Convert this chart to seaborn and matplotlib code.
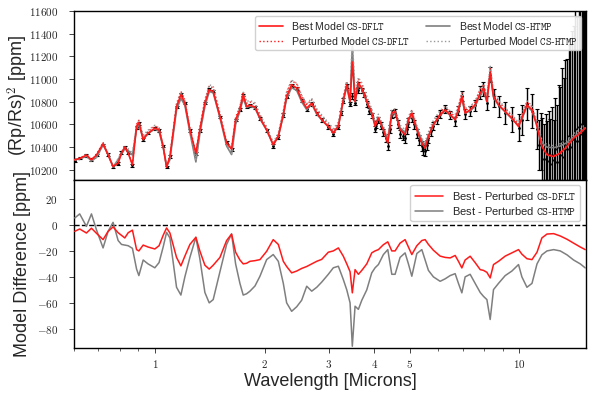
import numpy as np
import pandas as pd
import matplotlib
matplotlib.use("Agg")
import matplotlib.pyplot as plt
import seaborn as sns
from matplotlib.ticker import FuncFormatter, NullFormatter, FixedLocator

# ---------------- data ----------------
wavelength = [0.603, 0.622, 0.649, 0.670, 0.692, 0.721, 0.744, 0.768, 0.793, 0.810,
              0.827, 0.845, 0.868, 0.891, 0.904, 0.929, 0.958, 1.000, 1.027, 1.054,
              1.077, 1.100, 1.147, 1.179, 1.209, 1.248, 1.296, 1.329, 1.372, 1.410,
              1.446, 1.509, 1.574, 1.624, 1.666, 1.712, 1.748, 1.786, 1.824, 1.883,
              1.943, 2.027, 2.113, 2.182, 2.252, 2.300, 2.374, 2.451, 2.529, 2.611,
              2.695, 2.782, 2.871, 2.993, 3.089, 3.189, 3.291, 3.363, 3.434, 3.483,
              3.544, 3.619, 3.698, 3.816, 3.938, 4.022, 4.107, 4.239, 4.358, 4.470,
              4.564, 4.710, 4.862, 4.965, 5.073, 5.236, 5.404, 5.518, 5.634, 5.815,
              6.067, 6.262, 6.463, 6.671, 6.811, 6.959, 7.105, 7.334, 7.569, 7.815,
              7.979, 8.153, 8.324, 8.500, 8.773, 9.153, 9.548, 9.956, 10.17, 10.50,
              10.84, 11.19, 11.54, 11.92, 12.43, 12.96, 13.52, 14.10, 14.71, 15.18]

best_dflt = [10288, 10300, 10330, 10288, 10332, 10429, 10332, 10229, 10259, 10347,
             10400, 10347, 10244, 10582, 10617, 10465, 10523, 10568, 10553, 10406,
             10223, 10317, 10758, 10861, 10788, 10553, 10347, 10553, 10788, 10906,
             10891, 10670, 10435, 10382, 10641, 10729, 10861, 10758, 10770, 10753,
             10656, 10553, 10420, 10494, 10685, 10847, 10950, 10921, 10817, 10744,
             10788, 10700, 10641, 10582, 10523, 10582, 10817, 10950, 10802, 11150,
             10802, 10965, 10921, 10802, 10700, 10582, 10656, 10553, 10435, 10700,
             10714, 10553, 10509, 10641, 10700, 10553, 10435, 10391, 10494, 10597,
             10685, 10729, 10685, 10641, 10729, 10847, 10700, 10729, 10773, 10876,
             10921, 10802, 11053, 10847, 10773, 10714, 10656, 10582, 10656, 10773,
             10729, 10582, 10406, 10332, 10317, 10347, 10406, 10479, 10523, 10568]

best_htmp = [10290, 10298, 10320, 10280, 10310, 10420, 10340, 10225, 10290, 10340,
             10385, 10370, 10330, 10560, 10600, 10480, 10520, 10560, 10540, 10400,
             10230, 10290, 10730, 10830, 10770, 10530, 10270, 10520, 10760, 10890,
             10880, 10660, 10410, 10335, 10600, 10720, 10830, 10750, 10760, 10745,
             10650, 10550, 10420, 10494, 10680, 10830, 10925, 10900, 10800, 10730,
             10780, 10690, 10640, 10580, 10530, 10590, 10810, 10930, 10800, 11290,
             10800, 10950, 10910, 10800, 10700, 10600, 10660, 10560, 10470, 10690,
             10700, 10570, 10530, 10640, 10690, 10570, 10460, 10420, 10500, 10600,
             10680, 10720, 10680, 10650, 10720, 10830, 10700, 10720, 10760, 10860,
             10900, 10800, 11050, 10840, 10770, 10710, 10650, 10590, 10650, 10760,
             10720, 10600, 10440, 10400, 10395, 10410, 10440, 10490, 10530, 10570]

diff_dflt = [-4.9, -3.1, -6.2, -2.5, -6.5, -11.3, -5.0, -1.5, -6.0, -8.0,
             -10.0, -6.0, -4.0, -19.0, -20.0, -15.5, -17.0, -18.5, -16.0, -8.0,
             -2.3, -6.2, -25.0, -31.5, -24.0, -15.0, -9.5, -20.0, -31.0, -34.0,
             -31.0, -25.0, -12.0, -7.0, -21.0, -27.0, -30.0, -29.5, -28.0, -27.5,
             -26.7, -20.3, -11.3, -15.0, -28.0, -32.0, -36.9, -35.5, -33.5, -32.0,
             -30.0, -28.0, -26.5, -21.0, -20.0, -17.7, -24.1, -30.0, -36.0, -52.3,
             -34.4, -38.0, -35.0, -30.0, -21.5, -20.0, -19.0, -15.2, -13.0, -20.0,
             -20.0, -14.0, -11.3, -17.0, -22.8, -16.0, -12.0, -11.3, -15.0, -19.5,
             -24.0, -25.0, -25.4, -23.5, -28.0, -33.1, -27.0, -24.1, -29.0, -34.4,
             -35.0, -36.5, -40.8, -30.5, -28.0, -24.0, -21.5, -19.0, -22.5, -26.0,
             -26.7, -21.0, -10.0, -7.0, -6.7, -8.5, -11.0, -14.0, -17.0, -19.0]

diff_htmp = [5.4, 8.5, -1.1, 8.5, -4.0, -17.7, -5.0, 2.0, -12.0, -15.0,
             -15.5, -16.0, -18.0, -34.0, -39.0, -27.0, -30.0, -33.0, -29.0, -17.0,
             -5.7, -10.0, -48.0, -54.0, -40.0, -25.0, -9.5, -26.0, -52.0, -60.0,
             -57.5, -36.0, -15.0, -7.0, -30.0, -45.0, -54.0, -53.0, -51.0, -47.0,
             -39.5, -26.7, -22.8, -28.0, -45.0, -60.0, -66.5, -63.0, -58.0, -47.2,
             -51.0, -48.0, -44.0, -38.0, -33.0, -31.8, -42.1, -50.0, -60.0, -93.4,
             -62.6, -65.0, -58.0, -50.0, -36.9, -33.0, -30.5, -22.8, -19.0, -38.0,
             -38.0, -25.0, -21.5, -30.0, -39.5, -22.0, -19.0, -27.0, -35.0, -40.0,
             -43.4, -41.5, -39.0, -37.5, -45.0, -52.3, -40.0, -38.0, -45.0, -52.0,
             -55.0, -57.5, -72.8, -49.8, -45.0, -39.0, -35.5, -30.5, -40.0, -48.0,
             -45.0, -30.0, -23.0, -20.0, -19.0, -20.0, -23.0, -27.0, -30.0, -33.1]

obs_wavelength = [0.603, 0.622, 0.649, 0.670, 0.692, 0.721, 0.744, 0.768, 0.793, 0.810,
                  0.827, 0.845, 0.868, 0.891, 0.904, 0.929, 0.958, 1.000, 1.027, 1.054,
                  1.077, 1.100, 1.147, 1.179, 1.209, 1.248, 1.296, 1.329, 1.372, 1.410,
                  1.446, 1.509, 1.574, 1.624, 1.666, 1.712, 1.748, 1.786, 1.824, 1.883,
                  1.943, 2.027, 2.113, 2.182, 2.252, 2.300, 2.374, 2.451, 2.529, 2.611,
                  2.695, 2.782, 2.871, 2.993, 3.089, 3.189, 3.250, 3.291, 3.363, 3.434,
                  3.483, 3.544, 3.600, 3.619, 3.698, 3.750, 3.816, 3.880, 3.938, 4.022,
                  4.050, 4.107, 4.180, 4.239, 4.300, 4.358, 4.410, 4.470, 4.564, 4.640,
                  4.710, 4.790, 4.862, 4.910, 4.965, 5.073, 5.150, 5.236, 5.320, 5.404,
                  5.460, 5.518, 5.580, 5.634, 5.720, 5.815, 5.940, 6.067, 6.262, 6.463,
                  6.671, 6.811, 6.959, 7.105, 7.334, 7.569, 7.815, 7.979, 8.153, 8.324,
                  8.500, 8.773, 9.153, 9.548, 9.956, 10.17, 10.50, 10.84, 11.19, 11.35,
                  11.45, 11.54, 11.73, 11.83, 11.92, 12.05, 12.17, 12.30, 12.43, 12.56,
                  12.70, 12.83, 12.96, 13.10, 13.24, 13.38, 13.52, 13.66, 13.80, 13.95,
                  14.10, 14.25, 14.40, 14.55, 14.71, 14.83, 14.95, 15.07, 15.18]

obs_value = [10280, 10305, 10325, 10290, 10330, 10420, 10335, 10230, 10255, 10350,
             10395, 10350, 10240, 10575, 10610, 10470, 10525, 10565, 10550, 10410,
             10225, 10320, 10755, 10865, 10790, 10550, 10345, 10550, 10790, 10910,
             10895, 10665, 10440, 10380, 10640, 10730, 10860, 10755, 10765, 10750,
             10650, 10550, 10410, 10490, 10685, 10845, 10945, 10915, 10810, 10735,
             10780, 10695, 10640, 10575, 10515, 10575, 10700, 10810, 10940, 10780,
             10850, 10790, 10900, 10955, 10900, 10860, 10780, 10720, 10680, 10560,
             10600, 10640, 10590, 10530, 10480, 10410, 10560, 10690, 10700, 10600,
             10520, 10500, 10480, 10560, 10620, 10660, 10600, 10520, 10460, 10410,
             10380, 10370, 10420, 10480, 10540, 10590, 10640, 10690, 10735, 10680,
             10630, 10720, 10850, 10690, 10720, 10770, 10880, 10910, 10790, 11040,
             10830, 10760, 10700, 10640, 10570, 10640, 10780, 10720, 10560, 10420,
             10450, 10380, 10300, 10360, 10280, 10340, 10250, 10330, 10290, 10380,
             10270, 10400, 10330, 10450, 10310, 10420, 10380, 10500, 10400, 10470,
             10470, 10560, 10450, 10580, 10520, 10600, 10500, 10620, 10560]

obs_error = [12, 12, 12, 12, 12, 12, 12, 12, 12, 12,
             12, 12, 12, 12, 12, 12, 12, 12, 12, 12,
             12, 12, 12, 12, 12, 12, 12, 12, 12, 12,
             12, 12, 12, 12, 12, 12, 12, 12, 12, 12,
             12, 12, 15, 15, 15, 15, 15, 15, 15, 15,
             15, 15, 15, 18, 18, 18, 20, 20, 20, 20,
             25, 22, 22, 22, 22, 22, 25, 25, 25, 30,
             30, 30, 30, 30, 35, 35, 35, 35, 35, 35,
             35, 40, 40, 40, 40, 40, 40, 40, 45, 45,
             45, 45, 45, 40, 40, 35, 35, 35, 35, 35,
             40, 40, 45, 45, 45, 50, 55, 60, 60, 70,
             80, 90, 100, 110, 120, 130, 140, 150, 180, 220,
             250, 280, 300, 330, 350, 380, 400, 420, 350, 450,
             500, 550, 600, 650, 700, 750, 800, 850, 900, 950,
             1000, 1050, 1100, 1150, 1200, 1250, 1300, 1350, 1400]

top_yticks = [10200, 10400, 10600, 10800, 11000, 11200, 11400, 11600]
bottom_yticks = [-80, -60, -40, -20, 0, 20]
xticks = [1, 2, 3, 4, 5, 10]

# ---------------- derived tables ----------------
df = pd.DataFrame({
    "wl": wavelength,
    "best_dflt": best_dflt,
    "best_htmp": best_htmp,
    "diff_dflt": diff_dflt,
    "diff_htmp": diff_htmp,
})
df["pert_dflt"] = df["best_dflt"] - df["diff_dflt"]
df["pert_htmp"] = df["best_htmp"] - df["diff_htmp"]

# ---------------- style ----------------
sns.set_style("ticks")
plt.rcParams["font.family"] = ["Liberation Sans", "DejaVu Sans"]
plt.rcParams["mathtext.fontset"] = "cm"
plt.rcParams["xtick.direction"] = "out"
plt.rcParams["ytick.direction"] = "out"

fig = plt.figure(figsize=(5.97, 3.98), dpi=100)
L, R = 74 / 597, 586 / 597
ax1 = fig.add_axes([L, 1 - 179.5 / 398, R - L, (179.5 - 11) / 398])
ax2 = fig.add_axes([L, 1 - 348.3 / 398, R - L, (348.3 - 179.5) / 398], sharex=ax1)

# observations
ax1.errorbar(obs_wavelength, obs_value, yerr=obs_error, fmt=".", color="black",
             ms=2, elinewidth=1.0, capsize=1.5, capthick=0.8, zorder=2)

red = "#ff1a1a"
gray = "#7f7f7f"
sns.lineplot(data=df, x="wl", y="best_dflt", ax=ax1, color=red, lw=1.2,
             label="Best Model $\\mathtt{CS}$-$\\mathtt{DFLT}$", zorder=4, estimator=None)
sns.lineplot(data=df, x="wl", y="pert_dflt", ax=ax1, color=red, lw=1.0, ls=":",
             label="Perturbed Model $\\mathtt{CS}$-$\\mathtt{DFLT}$", zorder=3, estimator=None)
sns.lineplot(data=df, x="wl", y="best_htmp", ax=ax1, color=gray, lw=1.2,
             label="Best Model $\\mathtt{CS}$-$\\mathtt{HTMP}$", zorder=3, estimator=None)
sns.lineplot(data=df, x="wl", y="pert_htmp", ax=ax1, color="#999999", lw=1.0, ls=":",
             label="Perturbed Model $\\mathtt{CS}$-$\\mathtt{HTMP}$", zorder=3, estimator=None)

sns.lineplot(data=df, x="wl", y="diff_dflt", ax=ax2, color=red, lw=1.1,
             label="Best - Perturbed $\\mathtt{CS}$-$\\mathtt{DFLT}$", zorder=4, estimator=None)
sns.lineplot(data=df, x="wl", y="diff_htmp", ax=ax2, color=gray, lw=1.1,
             label="Best - Perturbed $\\mathtt{CS}$-$\\mathtt{HTMP}$", zorder=3, estimator=None)
ax2.axhline(0, color="black", ls="--", lw=1.0, zorder=2)

# axes
ax1.set_xscale("log")
ax1.set_xlim(0.6, 15.25)
ax1.set_ylim(10115, 11600)
ax2.set_ylim(-95, 35)

math_fmt = FuncFormatter(lambda v, p: f"${v:g}$")
ax1.set_yticks(top_yticks)
ax2.set_yticks(bottom_yticks)
ax1.yaxis.set_major_formatter(math_fmt)
ax2.yaxis.set_major_formatter(math_fmt)
ax2.xaxis.set_major_locator(FixedLocator(xticks))
ax2.xaxis.set_major_formatter(math_fmt)
ax2.xaxis.set_minor_formatter(NullFormatter())
plt.setp(ax1.get_xticklabels(), visible=False)
ax1.tick_params(axis="x", which="both", length=0)

for ax in (ax1, ax2):
    for s in ax.spines.values():
        s.set_visible(True)
        s.set_linewidth(1.0)
        s.set_color("black")
    ax.tick_params(axis="both", which="major", labelsize=8, length=3.5, width=0.6)
    ax.tick_params(axis="both", which="minor", length=2, width=0.5)
    ax.tick_params(axis="y", which="major", pad=8)

ax1.set_xlabel("")
ax1.set_ylabel("(Rp/Rs)$^2$ [ppm]", fontsize=13)
ax2.set_ylabel("Model Difference [ppm]", fontsize=13)
ax2.set_xlabel("Wavelength [Microns]", fontsize=13, labelpad=2)
ax1.yaxis.set_label_coords(-0.086, 0.5)
ax2.yaxis.set_label_coords(-0.084, 0.5)

ax1.legend(loc="upper right", ncol=2, fontsize=7.6, frameon=True, framealpha=0.9,
           edgecolor="0.8", borderpad=0.35, labelspacing=0.3, columnspacing=1.5,
           handlelength=2.3, borderaxespad=0.3, bbox_to_anchor=(0.997, 0.99))
ax2.legend(loc="upper right", fontsize=8, frameon=True, framealpha=0.9,
           edgecolor="0.8", borderpad=0.4, labelspacing=0.3, handlelength=2.5)

fig.savefig("out.png", dpi=100)
